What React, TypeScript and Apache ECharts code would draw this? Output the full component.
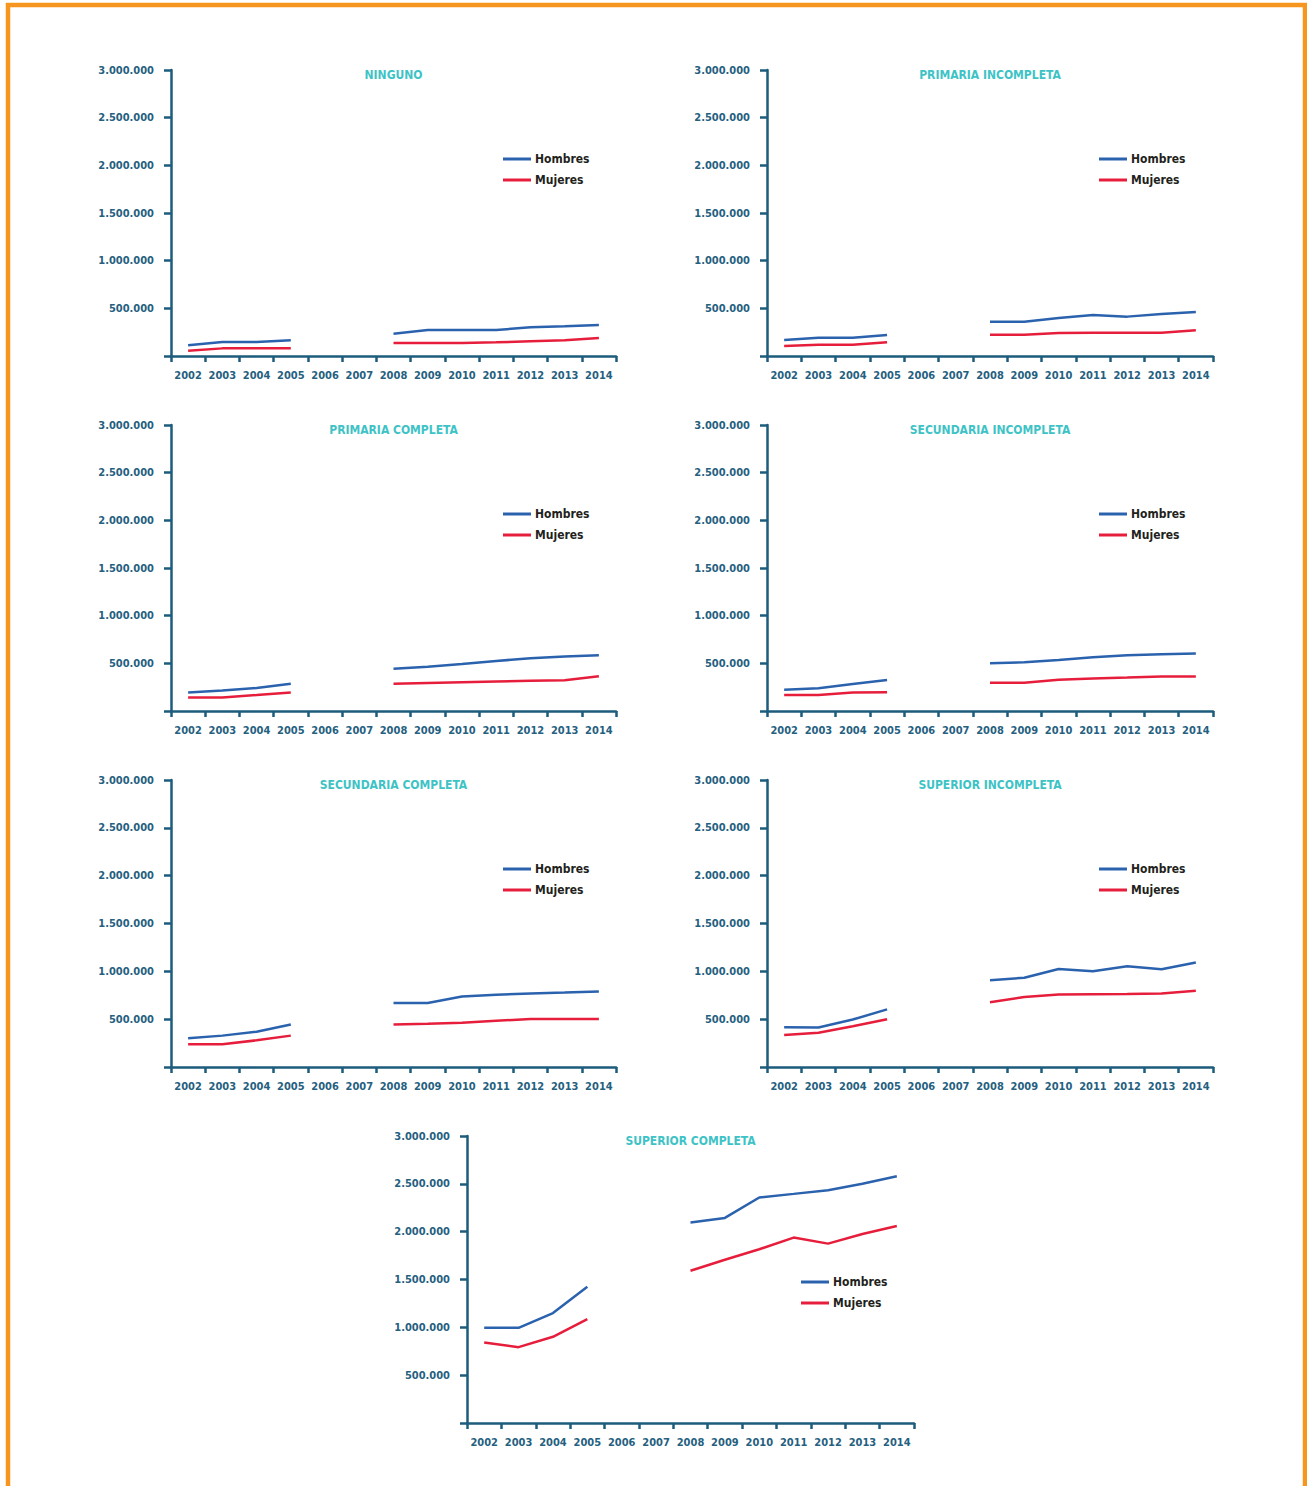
import React, { useEffect, useRef } from "react";
import * as echarts from "echarts";

const years = ["2002", "2003", "2004", "2005", "2006", "2007", "2008", "2009", "2010", "2011", "2012", "2013", "2014"];
const yTicks = [500000, 1000000, 1500000, 2000000, 2500000, 3000000];

const titles = [
  "NINGUNO",
  "PRIMARIA INCOMPLETA",
  "PRIMARIA COMPLETA",
  "SECUNDARIA INCOMPLETA",
  "SECUNDARIA COMPLETA",
  "SUPERIOR INCOMPLETA",
  "SUPERIOR COMPLETA",
];

const ningunoH = [112000, 147000, 147000, 164000, null, null, 234000, 273000, 273000, 273000, 301000, 311000, 325000];
const ningunoM = [56000, 80000, 80000, 80000, null, null, 136000, 136000, 136000, 143000, 154000, 164000, 189000];

const primIncH = [168000, 192000, 192000, 220000, null, null, 360000, 360000, 399000, 430000, 413000, 441000, 462000];
const primIncM = [105000, 119000, 119000, 143000, null, null, 224000, 224000, 241000, 245000, 245000, 245000, 269000];

const primCompH = [195000, 216000, 241000, 287000, null, null, 443000, 465000, 493000, 525000, 553000, 571000, 585000];
const primCompM = [142000, 142000, 167000, 195000, null, null, 287000, 294000, 301000, 309000, 316000, 323000, 365000];

const secIncH = [222000, 239000, 282000, 324000, null, null, 500000, 511000, 535000, 563000, 585000, 595000, 602000];
const secIncM = [169000, 169000, 194000, 197000, null, null, 296000, 296000, 327000, 342000, 352000, 363000, 363000];

const secCompH = [300000, 328000, 369000, 445000, null, null, 669000, 669000, 738000, 755000, 769000, 779000, 790000];
const secCompM = [238000, 238000, 279000, 328000, null, null, 445000, 452000, 462000, 483000, 503000, 503000, 503000];

const supIncH = [415000, 412000, 496000, 602000, null, null, 908000, 933000, 1025000, 1000000, 1053000, 1021000, 1092000];
const supIncM = [335000, 359000, 426000, 500000, null, null, 676000, 732000, 757000, 761000, 764000, 768000, 796000];

const supCompH = [995000, 995000, 1149000, 1425000, null, null, 2095000, 2144000, 2357000, 2395000, 2434000, 2500000, 2580000];
const supCompM = [841000, 793000, 901000, 1086000, null, null, 1592000, 1707000, 1816000, 1938000, 1875000, 1976000, 2060000];

const hombres = [ningunoH, primIncH, primCompH, secIncH, secCompH, supIncH, supCompH];
const mujeres = [ningunoM, primIncM, primCompM, secIncM, secCompM, supIncM, supCompM];

const FONT = "'DejaVu Sans Condensed', 'Liberation Sans Narrow', 'Roboto', sans-serif";
const AXIS = "#1D5C7C";
const LABEL = "#25607F";
const TEAL = "#3DC3C6";
const BLUE = "#2B62AE";
const RED = "#E61E3C";

// grid layout: left, top, width, height, legend offsets
const grids = [
  { left: 171, top: 70, width: 445, height: 286, lx: 332, ly: 83 },
  { left: 767, top: 70, width: 446, height: 286, lx: 332, ly: 83 },
  { left: 171, top: 425, width: 445, height: 286, lx: 332, ly: 83 },
  { left: 767, top: 425, width: 446, height: 286, lx: 332, ly: 83 },
  { left: 171, top: 780, width: 445, height: 287, lx: 332, ly: 83 },
  { left: 767, top: 780, width: 446, height: 287, lx: 332, ly: 83 },
  { left: 467, top: 1136, width: 447, height: 287, lx: 334, ly: 140 },
];

function fmt(v: number) {
  if (!v) return "";
  return String(v).replace(/\B(?=(\d{3})+(?!\d))/g, ".");
}

export default function App() {
  const ref = useRef<HTMLDivElement>(null);
  useEffect(() => {
    if (!ref.current) return;
    const chart = echarts.init(ref.current, null, { renderer: "svg" });
    const option: any = {
      animation: false,
      backgroundColor: "#ffffff",
      title: grids.map((g, i) => ({
        text: titles[i],
        left: g.left + g.width / 2,
        textAlign: "center",
        top: g.top - 1,
        padding: 0,
        textStyle: { color: TEAL, fontFamily: FONT, fontWeight: "bold", fontSize: 12 },
      })),
      legend: grids.map((g) => ({
        data: ["Hombres", "Mujeres"],
        orient: "vertical",
        left: g.left + g.lx,
        top: g.top + g.ly,
        padding: 0,
        icon: "rect",
        itemWidth: 28,
        itemHeight: 3,
        itemGap: 9,
        selectedMode: false,
        textStyle: { color: "#231F20", fontFamily: FONT, fontWeight: "bold", fontSize: 12, padding: [0, 0, 0, -1] },
      })),
      grid: grids.map((g) => ({ left: g.left, top: g.top, width: g.width, height: g.height, containLabel: false })),
      xAxis: grids.map((_, i) => ({
        type: "category",
        gridIndex: i,
        data: years,
        boundaryGap: true,
        axisLine: { lineStyle: { color: AXIS, width: 2.5 } },
        axisTick: { show: true, length: 6, lineStyle: { color: AXIS, width: 2.5 } },
        axisLabel: { color: LABEL, fontFamily: FONT, fontWeight: "bold", fontSize: 11, margin: 14, interval: 0 },
        splitLine: { show: false },
      })),
      yAxis: grids.map((_, i) => ({
        type: "value",
        gridIndex: i,
        min: 0,
        max: 3000000,
        interval: 500000,
        axisLine: { show: true, lineStyle: { color: AXIS, width: 2.5 } },
        axisTick: { show: true, length: 7, lineStyle: { color: AXIS, width: 2.5 } },
        axisLabel: {
          color: LABEL,
          fontFamily: FONT,
          fontWeight: "bold",
          fontSize: 11,
          margin: 17,
          formatter: (v: number) => (yTicks.indexOf(v) >= 0 ? fmt(v) : ""),
        },
        splitLine: { show: false },
      })),
      series: grids.flatMap((_, i) => [
        {
          name: "Hombres",
          type: "line",
          xAxisIndex: i,
          yAxisIndex: i,
          data: hombres[i],
          showSymbol: false,
          symbol: "none",
          connectNulls: false,
          lineStyle: { color: BLUE, width: 2.5 },
          itemStyle: { color: BLUE },
        },
        {
          name: "Mujeres",
          type: "line",
          xAxisIndex: i,
          yAxisIndex: i,
          data: mujeres[i],
          showSymbol: false,
          symbol: "none",
          connectNulls: false,
          lineStyle: { color: RED, width: 2.5 },
          itemStyle: { color: RED },
        },
      ]),
      graphic: [
        {
          type: "rect",
          shape: { x: 8, y: 5, width: 1297, height: 1500 },
          style: { fill: "none", stroke: "#F7961F", lineWidth: 4.5 },
          silent: true,
        },
      ],
    };
    chart.setOption(option);
    return () => chart.dispose();
  }, []);
  return (
    <div
      ref={ref}
      style={{ position: "absolute", left: 0, top: 0, width: 1307, height: 1486 }}
    />
  );
}
